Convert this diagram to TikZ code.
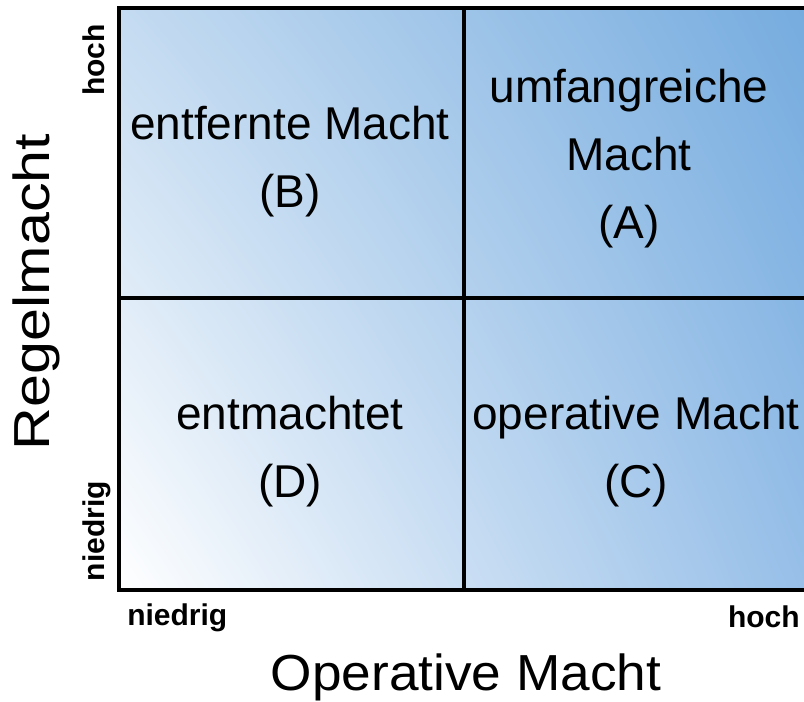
\documentclass[tikz,border=0pt]{standalone}
\usepackage{fontspec}
\setmainfont{Liberation Sans}
\usetikzlibrary{positioning,shadings}

\definecolor{cornerUL}{HTML}{C4DBF1}
\definecolor{cornerUR}{HTML}{76ACDF}
\definecolor{cornerLR}{HTML}{97BFE8}

\begin{document}
\begin{tikzpicture}[
  x=0.75pt,y=-0.75pt,
  quad/.style={align=center,anchor=north,inner sep=0pt,font=\fontsize{34.5}{51}\selectfont},
  axislabel/.style={inner sep=0pt,anchor=base,font=\fontsize{38}{40}\selectfont},
  ticklabel/.style={inner sep=0pt,font=\fontsize{22.5}{24}\selectfont\bfseries},
  gridline/.style={line width=2.5pt,line join=miter}
]
  \useasboundingbox (0,0) rectangle (804,701);

  % corners of the matrix
  \coordinate (tl) at (119,8);
  \coordinate (tr) at (804,8);
  \coordinate (bl) at (119,590);
  \coordinate (br) at (804,590);
  \coordinate (tm) at (464,8);
  \coordinate (bm) at (464,590);
  \coordinate (ml) at (119,298);
  \coordinate (mr) at (804,298);

  % background
  \shade[lower left=white,upper left=cornerUL,upper right=cornerUR,lower right=cornerLR] (tl) rectangle (br);

  % frame and cross
  \draw[gridline] (tr) -- (tl) -- (bl) -- (br);
  \draw[gridline] (tm) -- (bm);
  \draw[gridline] (ml) -- (mr);

  % quadrants
  \node[quad] (quadB) at (290,106) {entfernte Macht\\(B)};
  \node[quad] (quadA) at (629,69) {umfangreiche\\Macht\\(A)};
  \node[quad] (quadD) at (290,396) {entmachtet\\(D)};
  \node[quad] (quadC) at (636,396) {operative Macht\\(C)};

  % axes
  \node[axislabel,rotate=90] (regel) at (50,292) {\scalebox{1.17}[1]{Regelmacht}};
  \node[axislabel] (oper) at (466,690) {\scalebox{1.05}[1]{Operative Macht}};

  \node[ticklabel,anchor=base west] (xlow) at (127,625) {niedrig};
  \node[ticklabel,anchor=base east] (xhigh) at (800,627) {hoch};
  \node[ticklabel,anchor=base,rotate=90] (yhigh) at (104,60) {hoch};
  \node[ticklabel,anchor=base,rotate=90] (ylow) at (104,531) {niedrig};
\end{tikzpicture}
\end{document}
